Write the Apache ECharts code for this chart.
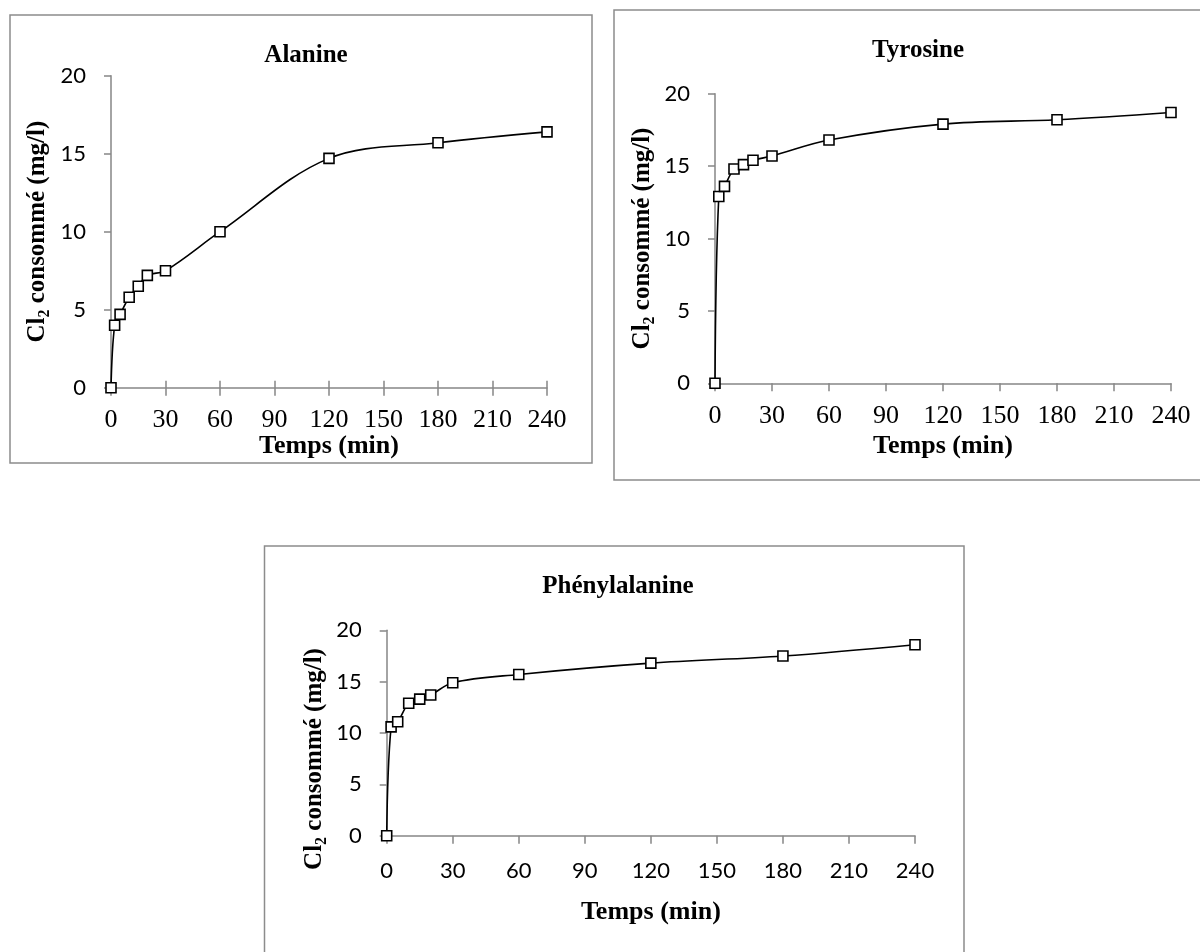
<!DOCTYPE html>
<html>
<head>
<meta charset="utf-8">
<script src="https://cdn.jsdelivr.net/npm/echarts@6/dist/echarts.min.js"></script>
<style>
  html, body { margin: 0; padding: 0; background: #ffffff; }
  #chart { width: 1200px; height: 952px; }
</style>
</head>
<body>
<div id="chart"></div>
<script>
// Chlorine consumed over time for three amino acids
const times = [0, 2, 5, 10, 15, 20, 30, 60, 120, 180, 240];
const alanine = [0, 4.0, 4.7, 5.8, 6.5, 7.2, 7.5, 10.0, 14.7, 15.7, 16.4];
const tyrosine = [0, 12.9, 13.6, 14.8, 15.1, 15.4, 15.7, 16.8, 17.9, 18.2, 18.7];
const phenylalanine = [0, 10.6, 11.1, 12.9, 13.3, 13.7, 14.9, 15.7, 16.8, 17.5, 18.6];
const titles = ['Alanine', 'Tyrosine', 'Phénylalanine'];
const xName = 'Temps (min)';

const SERIF = '"Liberation Serif", "Times New Roman", serif';
const SANS = 'Lato, "Noto Sans", sans-serif';
const AXIS_GREY = '#868686';
const FRAME_GREY = '#8c8c8c';

function pairs(ys) { return times.map((t, i) => [t, ys[i]]); }

const yNameRich = {
  rich: {
    b: { fontFamily: SERIF, fontWeight: 'bold', fontSize: 25, color: '#000', lineHeight: 30 },
    s: { fontFamily: SERIF, fontWeight: 'bold', fontSize: 16, color: '#000', lineHeight: 30, verticalAlign: 'bottom', padding: [10, 0, 0, 0] }
  }
};
const yNameText = '{b|Cl}{s|2}{b| consommé (mg/l)}';

function yAxis(grid, gap, pad) {
  return {
    type: 'value', gridIndex: grid, min: 0, max: 20, interval: 5,
    name: yNameText, nameLocation: 'middle', nameGap: gap, nameRotate: 90,
    nameTextStyle: Object.assign({ padding: pad }, yNameRich),
    axisLine: { show: true, lineStyle: { color: AXIS_GREY, width: 1.5 } },
    axisTick: { show: true, length: 7, lineStyle: { color: AXIS_GREY, width: 1.5 } },
    splitLine: { show: false },
    axisLabel: { fontFamily: SANS, fontSize: 22, color: '#000', margin: 25 }
  };
}

function xAxis(grid, labelFont, labelSize, margin, gap) {
  return {
    type: 'value', gridIndex: grid, min: 0, max: 240, interval: 30,
    name: xName, nameLocation: 'middle', nameGap: gap,
    nameTextStyle: { fontFamily: SERIF, fontWeight: 'bold', fontSize: 26, color: '#000' },
    axisLine: { show: true, onZero: false, lineStyle: { color: AXIS_GREY, width: 1.5 } },
    axisTick: { show: true, length: 8, lineStyle: { color: AXIS_GREY, width: 1.5 } },
    splitLine: { show: false },
    axisLabel: { fontFamily: labelFont, fontSize: labelSize, color: '#000', margin: margin }
  };
}

function series(grid, ys) {
  return {
    type: 'line', xAxisIndex: grid, yAxisIndex: grid, data: pairs(ys),
    smooth: 0.35,
    symbol: 'rect', symbolSize: 10,
    lineStyle: { color: '#000', width: 1.6 },
    itemStyle: { color: '#fff', borderColor: '#000', borderWidth: 1.6 },
    z: 3
  };
}

// inner half of the crossing ticks on the first panel
const crossTicks = {
  type: 'value', gridIndex: 0, min: 0, max: 240, interval: 30, position: 'bottom',
  axisLine: { show: false },
  axisTick: { show: true, inside: true, length: 7, lineStyle: { color: AXIS_GREY, width: 1.5 } },
  axisLabel: { show: false }, splitLine: { show: false }
};

const chart = echarts.init(document.getElementById('chart'), null, { renderer: 'canvas' });
chart.setOption({
  backgroundColor: '#ffffff',
  animation: false,
  title: [
    { text: titles[0], left: 301, top: 38, textAlign: 'center',
      textStyle: { fontFamily: SERIF, fontWeight: 'bold', fontSize: 25, color: '#000' } },
    { text: titles[1], left: 913, top: 33, textAlign: 'center',
      textStyle: { fontFamily: SERIF, fontWeight: 'bold', fontSize: 25, color: '#000' } },
    { text: titles[2], left: 613, top: 569, textAlign: 'center',
      textStyle: { fontFamily: SERIF, fontWeight: 'bold', fontSize: 25, color: '#000' } }
  ],
  graphic: [
    { type: 'rect', shape: { x: 10, y: 15, width: 582, height: 448 },
      style: { fill: null, stroke: FRAME_GREY, lineWidth: 1.5 }, z: -1 },
    { type: 'rect', shape: { x: 614, y: 10, width: 600, height: 470 },
      style: { fill: null, stroke: FRAME_GREY, lineWidth: 1.5 }, z: -1 },
    { type: 'rect', shape: { x: 264.5, y: 546, width: 699.5, height: 420 },
      style: { fill: null, stroke: FRAME_GREY, lineWidth: 1.5 }, z: -1 }
  ],
  grid: [
    { left: 111, top: 75.7, width: 436, height: 312, containLabel: false },
    { left: 715, top: 93.7, width: 456, height: 289.6, containLabel: false },
    { left: 386.7, top: 630.3, width: 528.3, height: 205.4, containLabel: false }
  ],
  xAxis: [
    xAxis(0, SERIF, 26, 19, 46),
    xAxis(1, SERIF, 26, 20, 50),
    xAxis(2, SANS, 22, 24, 64),
    crossTicks
  ],
  yAxis: [
    yAxis(0, 58, [0, 0, 0, 0]),
    yAxis(1, 57, [0, 0, 0, 0]),
    yAxis(2, 57, [0, 52, 0, 0])
  ],
  series: [
    series(0, alanine),
    series(1, tyrosine),
    series(2, phenylalanine)
  ]
});
</script>
</body>
</html>
